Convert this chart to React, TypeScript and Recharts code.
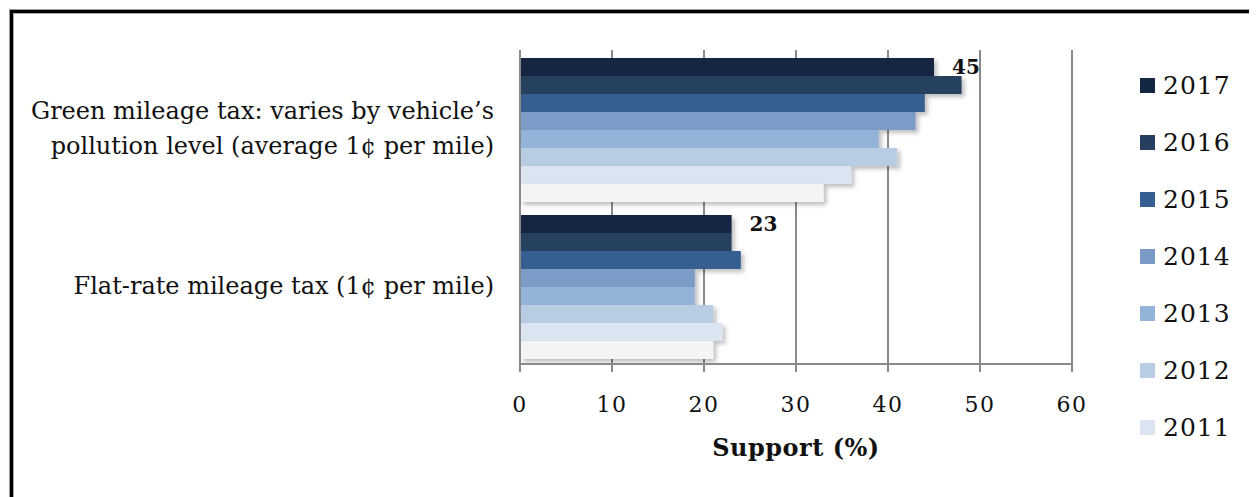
import { BarChart, Bar, XAxis, YAxis, CartesianGrid, LabelList } from 'recharts'

const categories = [
  'Green mileage tax: varies by vehicle’s\npollution level (average 1¢ per mile)',
  'Flat-rate mileage tax (1¢ per mile)',
]

const years = ['2017', '2016', '2015', '2014', '2013', '2012', '2011', '2010']

const support2017 = [45, 23]
const support2016 = [48, 23]
const support2015 = [44, 24]
const support2014 = [43, 19]
const support2013 = [39, 19]
const support2012 = [41, 21]
const support2011 = [36, 22]
const support2010 = [33, 21]

const xTicks = [0, 10, 20, 30, 40, 50, 60]

// the last year is cut off at the bottom of the original legend
const legendYears = years.slice(0, 7)

const colors = ['#132642', '#263f60', '#355f90', '#7b9bc7', '#94b3d9', '#b8cce4', '#dbe5f1', '#f4f4f4']

const seriesValues = [
  support2017,
  support2016,
  support2015,
  support2014,
  support2013,
  support2012,
  support2011,
  support2010,
]

const rows = categories.map((name, i) => {
  const row: Record<string, string | number> = { name }
  years.forEach((y, k) => {
    row[y] = seriesValues[k][i]
  })
  return row
})

const FONT = '"DejaVu Serif", serif'

const CategoryTick = (props: any) => {
  const { x, y, payload } = props
  const lines = String(payload.value).split('\n')
  const lh = 35
  const startY = y - ((lines.length - 1) * lh) / 2
  return (
    <text x={x - 18} y={startY} textAnchor="end" fontFamily={FONT} fontSize={24} fill="#111">
      {lines.map((l, i) => (
        <tspan key={i} x={x - 18} y={startY + i * lh} dy="0.35em">
          {l}
        </tspan>
      ))}
    </text>
  )
}

const ShadowRect = (props: any) => {
  const { x, y, width, height, fill } = props
  if (width <= 0) return null
  return <rect x={x} y={y} width={width} height={height} fill={fill} filter="url(#barShadow)" />
}

export default function App() {
  return (
    <div style={{ position: 'relative', width: 1249, height: 489, overflow: 'hidden', background: '#fff' }}>
      <div
        style={{
          position: 'absolute',
          left: 2,
          top: 2,
          width: 1400,
          height: 600,
          borderTop: '3px solid #000',
          borderLeft: '3px solid #000',
          boxShadow: 'inset 1px 1px 0 #aaa, -1px -1px 0 #999',
        }}
      />
      <div style={{ position: 'absolute', left: 0, top: 0 }}>
        <BarChart
          width={1249}
          height={489}
          data={rows}
          layout="vertical"
          margin={{ top: 42, right: 185, bottom: 33, left: 0 }}
          barCategoryGap={8}
          barGap={0}
        >
          <defs>
            <filter id="barShadow" x="-5%" y="-20%" width="115%" height="180%">
              <feDropShadow dx="3" dy="3" stdDeviation="2" floodColor="#000" floodOpacity="0.25" />
            </filter>
          </defs>
          <CartesianGrid horizontal={false} stroke="#8a8a8a" strokeWidth={2} />
          <XAxis
            type="number"
            domain={[0, 60]}
            ticks={xTicks}
            height={100}
            tickSize={8}
            tickMargin={24}
            stroke="#8a8a8a"
            strokeWidth={2}
            tick={{ fill: '#111', fontFamily: FONT, fontSize: 22, letterSpacing: 1.5 }}
            label={{
              value: 'Support (%)',
              position: 'insideBottom',
              offset: 8,
              style: { fontFamily: FONT, fontSize: 24, fontWeight: 'bold', fill: '#111', letterSpacing: 0.5 },
            }}
          />
          <YAxis
            type="category"
            dataKey="name"
            width={512}
            tickLine={false}
            stroke="#8a8a8a"
            strokeWidth={2}
            tick={<CategoryTick />}
          />
          {years.map((y, k) => (
            <Bar key={y} dataKey={y} fill={colors[k]} isAnimationActive={false} shape={<ShadowRect />}>
              {k === 0 && (
                <LabelList
                  dataKey={y}
                  position="right"
                  offset={18}
                  style={{ fontFamily: FONT, fontSize: 20, fontWeight: 'bold', fill: '#111' }}
                />
              )}
            </Bar>
          ))}
        </BarChart>
      </div>
      <div style={{ position: 'absolute', left: 1132, top: 49 }}>
        {legendYears.map((y, k) => (
          <div key={y} style={{ display: 'flex', alignItems: 'center', height: 57 }}>
            <div style={{ width: 15, height: 15, background: colors[k], marginRight: 8 }} />
            <span style={{ fontFamily: FONT, fontSize: 25, letterSpacing: 1, color: '#111' }}>{y}</span>
          </div>
        ))}
      </div>
    </div>
  )
}
